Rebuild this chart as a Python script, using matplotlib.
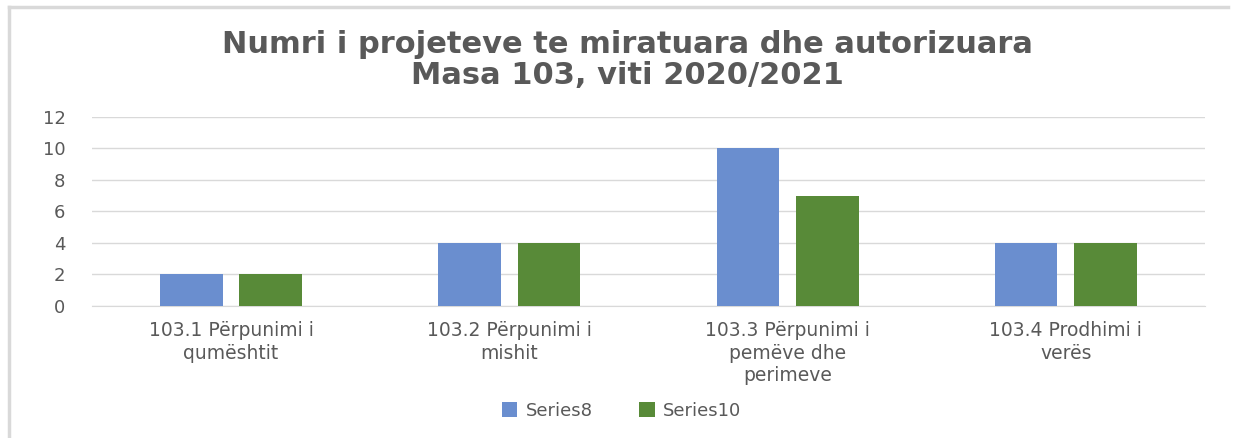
import matplotlib.pyplot as plt
import numpy as np
from matplotlib.lines import Line2D

categories = ['103.1 Përpunimi i\nqumështit', '103.2 Përpunimi i\nmishit',
              '103.3 Përpunimi i\npemëve dhe\nperimeve', '103.4 Prodhimi i\nverës']
series8 = [2, 4, 10, 4]
series10 = [2, 4, 7, 4]
series_names = ['Series8', 'Series10']

blue = '#6a8ecf'
green = '#588a38'
txt = '#595959'
grid = '#d9d9d9'

fig = plt.figure(figsize=(12.43, 4.38), dpi=100)
ax = fig.add_axes([0.074, 0.3014, 0.8954, 0.4315])

x = np.arange(len(categories))
w = 0.225
off = 0.1425
ax.bar(x - off, series8, width=w, color=blue, label=series_names[0], zorder=3)
ax.bar(x + off, series10, width=w, color=green, label=series_names[1], zorder=3)

ax.set_xlim(-0.5, len(categories) - 0.5)
ax.set_ylim(0, 12)
ax.set_yticks(range(0, 13, 2))
ax.yaxis.grid(True, color=grid, linewidth=1, zorder=0)
ax.set_axisbelow(True)
for s in ['top', 'right', 'left']:
    ax.spines[s].set_visible(False)
ax.spines['bottom'].set_color(grid)
ax.tick_params(axis='both', length=0, colors=txt)
ax.tick_params(axis='y', pad=19, labelsize=13)
ax.set_xticks(x)
ax.set_xticklabels(categories, linespacing=1.24)
ax.tick_params(axis='x', pad=11, labelsize=13.5)

fig.text(0.505, 0.863, 'Numri i projeteve te miratuara dhe autorizuara\nMasa 103, viti 2020/2021',
         ha='center', va='center', fontsize=22, fontweight='bold', color=txt, linespacing=1.07)

leg = fig.legend(loc='center', bbox_to_anchor=(0.5, 0.062), ncol=2, frameon=False,
                 fontsize=13, handlelength=0.85, handleheight=0.85, handletextpad=0.45,
                 columnspacing=2.6)
for t in leg.get_texts():
    t.set_color(txt)

# chart border
fig.add_artist(Line2D([0.0076, 0.0076], [0.0, 0.984], color=grid, linewidth=2.5, transform=fig.transFigure))
fig.add_artist(Line2D([0.0076, 0.988], [0.984, 0.984], color=grid, linewidth=2.5, transform=fig.transFigure))

fig.savefig('out.png', dpi=100)
